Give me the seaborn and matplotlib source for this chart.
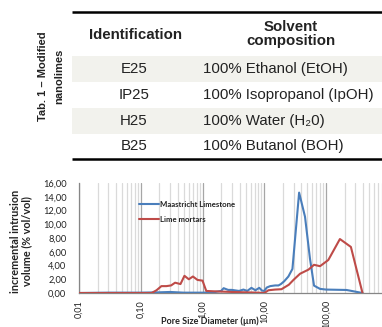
import numpy as np
import pandas as pd
import matplotlib
matplotlib.use("Agg")
import matplotlib.pyplot as plt
import matplotlib.ticker as mticker
import seaborn as sns

# ---------------- data ----------------
table_title = "Tab. 1 – Modified\nnanolimes"
col_headers = ["Identification", "Solvent\ncomposition"]
ids = ["E25", "IP25", "H25", "B25"]
solvents = ["100% Ethanol (EtOH)", "100% Isopropanol (IpOH)",
            "100% Water (H₂0)", "100% Butanol (BOH)"]

limestone_x = [0.01, 0.03, 0.1, 0.2, 0.3, 0.5, 1.0, 1.5, 2.0, 2.2, 2.6, 3.0, 3.9,
               4.6, 5.3, 6.2, 7.2, 8.3, 9.2, 10.0, 11.0, 12.5, 15.0, 17.0, 18.6,
               21.0, 24.6, 28.6, 36.7, 45.7, 55.0, 64.0, 80.0, 100.0, 215.0, 390.0]
limestone_y = [0.0, 0.05, 0.05, 0.1, 0.15, 0.05, 0.05, 0.1, 0.3, 0.7, 0.45, 0.45, 0.3,
               0.5, 0.3, 0.75, 0.4, 0.75, 0.35, 0.3, 0.8, 1.0, 1.1, 1.1, 1.3,
               1.7, 2.4, 3.5, 14.6, 11.1, 5.0, 1.07, 0.6, 0.5, 0.44, 0.0]

mortar_x = [0.01, 0.15, 0.18, 0.216, 0.26, 0.31, 0.36, 0.44, 0.51, 0.6, 0.7, 0.83,
            1.0, 1.15, 1.5, 3.0, 5.0, 8.0, 10.0, 11.7, 15.0, 19.0, 25.0, 29.7, 38.0,
            52.0, 64.0, 80.0, 109.0, 168.0, 253.0, 390.0]
mortar_y = [0.0, 0.0, 0.4, 1.0, 1.0, 1.1, 1.5, 1.3, 2.5, 2.0, 2.4, 1.9,
            1.8, 0.3, 0.25, 0.15, 0.1, 0.05, 0.0, 0.4, 0.5, 0.55, 1.2, 1.9, 2.8,
            3.4, 4.1, 3.9, 4.8, 7.85, 6.7, 0.0]

series_names = ["Maastricht Limestone", "Lime mortars"]
series_colors = ["#4a7ebb", "#be4b48"]

x_ticks = [0.01, 0.1, 1.0, 10.0, 100.0]
y_ticks = [0, 2, 4, 6, 8, 10, 12, 14, 16]
x_label = "Pore Size Diameter (µm)"
y_label = "incremental intrusion\nvolume (% vol/vol)"

def comma(v):
    return f"{v:.2f}".replace(".", ",")

# ---------------- figure ----------------
sns.set_style("white")
plt.rcParams["font.family"] = ["Liberation Sans", "DejaVu Sans"]

W, H = 382, 327
fig = plt.figure(figsize=(W / 100, H / 100), dpi=100)

# ---- table (pixel-coordinate overlay) ----
tax = fig.add_axes([0, 0, 1, 1])
tax.set_xlim(0, W)
tax.set_ylim(H, 0)
tax.axis("off")

row_centers = [69, 95, 121, 146]
row_h = 25.5
for i, yc in enumerate(row_centers):
    if i % 2 == 0:
        tax.add_patch(plt.Rectangle((72, yc - row_h / 2), W - 72, row_h,
                                    color="#f2f2ed", lw=0, zorder=0))
tax.plot([72, W], [12, 12], color="black", lw=1.8, solid_capstyle="butt")
tax.plot([72, W], [158.5, 158.5], color="black", lw=1.8, solid_capstyle="butt")

tax.text(51, 76, table_title, rotation=90, ha="center", va="center",
         fontsize=8, fontweight="bold", linespacing=1.75, color="#222222")
tax.text(135, 35, col_headers[0], ha="center", va="center", fontsize=10.8,
         fontweight="bold", color="#222222")
tax.text(291, 34, col_headers[1], ha="center", va="center", fontsize=10.8,
         fontweight="bold", linespacing=1.05, color="#222222")
for yc, ident, solv in zip(row_centers, ids, solvents):
    tax.text(134, yc, ident, ha="center", va="center", fontsize=10.8, color="#222222")
    tax.text(203, yc, solv, ha="left", va="center", fontsize=10.8, color="#222222")

# ---- chart ----
left_px, right_px, bottom_px, top_px = 79, 382, 293, 183
ax = fig.add_axes([left_px / W, (H - bottom_px) / H,
                   (right_px - left_px) / W, (bottom_px - top_px) / H])

df = pd.concat([
    pd.DataFrame({"x": limestone_x, "y": limestone_y, "s": series_names[0]}),
    pd.DataFrame({"x": mortar_x, "y": mortar_y, "s": series_names[1]}),
])
sns.lineplot(data=df, x="x", y="y", hue="s", palette=series_colors,
             hue_order=series_names, ax=ax, lw=1.5, sort=False, zorder=3)

ax.set_xscale("log")
ax.set_xlim(0.01, 10 ** ((right_px - left_px) / 61.75 - 2))
ax.set_ylim(0, 16)

ax.xaxis.set_major_locator(mticker.FixedLocator(x_ticks))
ax.xaxis.set_minor_locator(mticker.LogLocator(base=10, subs=np.arange(2, 10)))
ax.xaxis.set_minor_formatter(mticker.NullFormatter())
ax.set_xticklabels([comma(v) for v in x_ticks], rotation=90,
                   fontsize=6.5, family=["Lato", "DejaVu Sans"], color="#222222")
ax.set_yticks(y_ticks)
ax.set_yticklabels([comma(v) for v in y_ticks], fontsize=6.7,
                   family=["Lato", "DejaVu Sans"], color="#222222")

ax.grid(False)
ax.grid(which="major", axis="x", color="#a6a6a6", lw=0.9)
ax.grid(which="minor", axis="x", color="#dadada", lw=0.9)
ax.set_axisbelow(True)

for s in ["top", "right"]:
    ax.spines[s].set_visible(False)
for s in ["left", "bottom"]:
    ax.spines[s].set_color("#868686")
    ax.spines[s].set_linewidth(0.9)
ax.tick_params(axis="y", which="major", length=3, width=0.8, color="#868686", pad=6)
ax.tick_params(axis="x", which="major", length=3, width=0.8, color="#868686", pad=2)
ax.tick_params(axis="x", which="minor", length=0)

ax.set_xlabel(x_label, fontsize=6.5, fontweight="bold",
              family=["Lato", "DejaVu Sans"], color="#222222")
ax.xaxis.set_label_coords((210 - left_px) / (right_px - left_px),
                          (bottom_px - 321.5) / (bottom_px - top_px))
ax.xaxis.label.set_va("center")
ax.set_ylabel(y_label, fontsize=7.8, fontweight="bold",
              family=["Lato", "DejaVu Sans"], linespacing=1.05, color="#222222")
ax.yaxis.set_label_coords((21 - left_px) / (right_px - left_px), 0.47)
ax.yaxis.label.set_va("center")

leg = ax.legend(loc="upper left", bbox_to_anchor=(0.185, 0.87), frameon=False,
                prop={"size": 5.6, "weight": "bold", "family": ["Lato", "DejaVu Sans"]},
                handlelength=2.6, handletextpad=0.1, labelspacing=0.95, borderpad=0)
for t in leg.get_texts():
    t.set_color("#222222")

fig.savefig("out.png", dpi=100)
